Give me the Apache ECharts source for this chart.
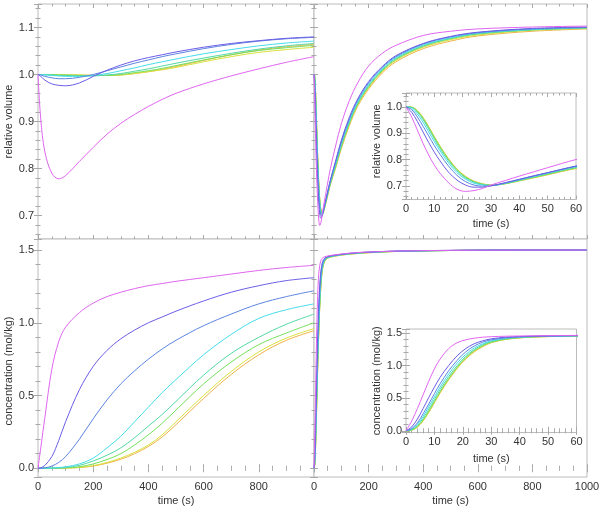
<!DOCTYPE html>
<html><head><meta charset="utf-8">
<script src="https://cdn.jsdelivr.net/npm/echarts@6/dist/echarts.min.js"></script>
<style>html,body{margin:0;padding:0;background:#fff}#c{width:603px;height:511px}</style>
</head><body><div id="c"></div>
<script>
// series order: magenta, violet, blue, cyan, spring green, green, yellow, orange
const lineColors = ['#e066f0', '#6b5de6', '#5c85e0', '#45dcec', '#52d8a4', '#74e05c', '#d8e23c', '#f0b248'];

const tLeft = [0,10,25,50,75,100,150,200,250,300,350,400,450,500,600,700,800,900,1000];
const tRight = [0,2,4,6,8,10,12,15,18,21,24,27,30,35,40,45,50,60,80,100,130,160,200,250,300,400,500,600,800,1000];

const volLeft = [
  [1.0,0.905,0.835,0.79,0.778,0.785,0.815,0.845,0.873,0.896,0.915,0.932,0.947,0.96,0.98,0.997,1.012,1.026,1.038],
  [1.0,0.996,0.988,0.98,0.977,0.976,0.982,0.996,1.009,1.02,1.029,1.036,1.042,1.048,1.058,1.066,1.072,1.077,1.08],
  [1.0,0.999,0.996,0.993,0.991,0.991,0.994,1.0,1.008,1.016,1.024,1.031,1.038,1.044,1.055,1.064,1.071,1.076,1.079],
  [1.0,1.0,0.999,0.998,0.997,0.996,0.996,0.998,1.002,1.008,1.014,1.021,1.027,1.033,1.044,1.053,1.061,1.067,1.071],
  [1.0,1.0,1.0,0.999,0.998,0.998,0.997,0.997,0.999,1.002,1.007,1.012,1.018,1.024,1.035,1.045,1.054,1.061,1.066],
  [1.0,1.0,1.0,1.0,0.999,0.999,0.998,0.998,0.998,1.0,1.004,1.008,1.013,1.019,1.031,1.042,1.051,1.057,1.062],
  [1.0,1.0,1.0,1.0,1.0,0.999,0.999,0.998,0.998,0.999,1.002,1.006,1.01,1.015,1.027,1.038,1.047,1.053,1.058],
  [1.0,1.0,1.0,1.0,1.0,0.999,0.999,0.998,0.998,0.999,1.002,1.006,1.011,1.017,1.03,1.042,1.052,1.059,1.064]
];

const concLeft = [
  [0,0.14,0.35,0.68,0.87,0.97,1.07,1.135,1.18,1.21,1.235,1.255,1.27,1.285,1.31,1.335,1.36,1.38,1.395],
  [0,0.003,0.02,0.08,0.19,0.32,0.54,0.7,0.81,0.89,0.95,1.0,1.04,1.08,1.15,1.21,1.255,1.29,1.31],
  [0,0,0.003,0.015,0.04,0.08,0.2,0.34,0.47,0.58,0.67,0.75,0.82,0.88,0.98,1.06,1.13,1.18,1.22],
  [0,0,0.001,0.002,0.005,0.01,0.03,0.07,0.14,0.22,0.32,0.42,0.52,0.61,0.78,0.92,1.03,1.09,1.13],
  [0,0,0,0.001,0.002,0.005,0.02,0.05,0.09,0.14,0.21,0.29,0.37,0.46,0.64,0.79,0.9,0.99,1.06],
  [0,0,0,0,0.001,0.003,0.01,0.03,0.06,0.1,0.16,0.23,0.31,0.4,0.58,0.73,0.85,0.93,1.0],
  [0,0,0,0,0.001,0.002,0.006,0.018,0.04,0.07,0.11,0.16,0.23,0.32,0.5,0.665,0.8,0.895,0.96],
  [0,0,0,0,0,0.001,0.005,0.015,0.035,0.062,0.1,0.15,0.215,0.3,0.48,0.645,0.78,0.88,0.945]
];

const volRight = [
  [1.0,0.962,0.912,0.862,0.817,0.779,0.748,0.712,0.687,0.679,0.682,0.69,0.703,0.72,0.737,0.753,0.769,0.8,0.85,0.895,0.945,0.982,1.018,1.045,1.062,1.083,1.092,1.097,1.101,1.103],
  [1.0,0.98,0.945,0.905,0.865,0.828,0.795,0.752,0.722,0.703,0.695,0.695,0.7,0.712,0.725,0.738,0.75,0.775,0.818,0.86,0.91,0.948,0.985,1.017,1.04,1.066,1.081,1.09,1.098,1.101],
  [1.0,0.99,0.962,0.927,0.89,0.853,0.82,0.775,0.74,0.716,0.703,0.699,0.7,0.711,0.724,0.737,0.75,0.775,0.815,0.856,0.906,0.945,0.982,1.015,1.038,1.065,1.08,1.089,1.097,1.1],
  [1.0,0.995,0.973,0.942,0.905,0.868,0.833,0.787,0.75,0.725,0.71,0.703,0.701,0.71,0.723,0.736,0.749,0.773,0.812,0.853,0.903,0.942,0.979,1.012,1.036,1.063,1.078,1.088,1.096,1.1],
  [1.0,0.998,0.98,0.952,0.916,0.878,0.842,0.795,0.757,0.73,0.714,0.705,0.702,0.709,0.721,0.733,0.746,0.77,0.808,0.849,0.899,0.939,0.976,1.01,1.034,1.061,1.077,1.087,1.095,1.099],
  [1.0,0.999,0.984,0.957,0.922,0.884,0.848,0.8,0.761,0.733,0.716,0.706,0.702,0.708,0.72,0.732,0.744,0.768,0.806,0.847,0.897,0.937,0.974,1.008,1.032,1.06,1.076,1.086,1.095,1.099],
  [1.0,0.999,0.985,0.959,0.924,0.886,0.85,0.802,0.763,0.735,0.717,0.707,0.703,0.708,0.719,0.731,0.743,0.767,0.804,0.845,0.895,0.935,0.972,1.006,1.03,1.058,1.074,1.084,1.094,1.098],
  [1.0,0.999,0.986,0.96,0.925,0.887,0.851,0.803,0.764,0.736,0.718,0.708,0.703,0.708,0.719,0.73,0.742,0.766,0.802,0.842,0.892,0.932,0.969,1.003,1.027,1.055,1.071,1.082,1.092,1.097]
];

const concRight = [
  [0,0.15,0.34,0.55,0.76,0.95,1.1,1.26,1.35,1.395,1.42,1.435,1.443,1.45,1.454,1.457,1.459,1.463,1.468,1.473,1.479,1.483,1.487,1.49,1.493,1.496,1.498,1.499,1.5,1.5],
  [0,0.06,0.18,0.34,0.51,0.67,0.82,1.0,1.15,1.26,1.335,1.38,1.41,1.435,1.445,1.451,1.455,1.46,1.466,1.471,1.477,1.482,1.486,1.49,1.493,1.496,1.498,1.499,1.5,1.5],
  [0,0.035,0.12,0.26,0.41,0.57,0.72,0.92,1.08,1.21,1.3,1.36,1.395,1.425,1.44,1.447,1.452,1.458,1.464,1.47,1.476,1.481,1.485,1.489,1.492,1.495,1.497,1.499,1.5,1.5],
  [0,0.025,0.1,0.22,0.37,0.52,0.67,0.87,1.04,1.17,1.27,1.335,1.38,1.418,1.436,1.445,1.45,1.456,1.463,1.469,1.475,1.48,1.485,1.489,1.492,1.495,1.497,1.499,1.5,1.5],
  [0,0.018,0.08,0.19,0.33,0.48,0.63,0.83,1.0,1.14,1.245,1.32,1.37,1.412,1.432,1.443,1.448,1.455,1.462,1.468,1.474,1.479,1.484,1.488,1.491,1.495,1.497,1.499,1.5,1.5],
  [0,0.012,0.065,0.165,0.3,0.45,0.6,0.8,0.975,1.12,1.23,1.305,1.36,1.405,1.428,1.44,1.446,1.453,1.461,1.467,1.473,1.478,1.483,1.487,1.491,1.494,1.497,1.499,1.5,1.5],
  [0,0.01,0.06,0.155,0.29,0.44,0.59,0.79,0.965,1.11,1.22,1.3,1.355,1.402,1.426,1.438,1.445,1.452,1.46,1.466,1.472,1.477,1.482,1.487,1.49,1.494,1.497,1.499,1.5,1.5],
  [0,0.009,0.055,0.15,0.28,0.43,0.58,0.78,0.955,1.1,1.21,1.29,1.35,1.4,1.424,1.437,1.444,1.451,1.459,1.465,1.471,1.476,1.481,1.486,1.49,1.494,1.497,1.499,1.5,1.5]
];

const volumeLabel = 'relative volume';
const concLabel = 'concentration (mol/kg)';
const timeLabel = 'time (s)';

const FRAME = '#bcbcbc', TICK = '#a8a8a8', TXT = '#333', FF = '"Liberation Sans", Arial, sans-serif';

const grids = [
  {left: 38, top: 4, width: 276, height: 235},
  {left: 314, top: 4, width: 273, height: 235},
  {left: 38, top: 239, width: 276, height: 238},
  {left: 314, top: 239, width: 273, height: 238},
  {left: 406, top: 93, width: 170, height: 106.5, z: 10},
  {left: 406, top: 329, width: 170.5, height: 103.5, z: 10}
].map(g => Object.assign({show: true, borderColor: FRAME, borderWidth: 1, backgroundColor: '#fff', containLabel: false}, g));

function xAx(gi, pos, min, max, interval, minorSplit, showLabels, name, showMax, nameGap, z) {
  return {
    type: 'value', gridIndex: gi, position: pos, min: min, max: max, interval: interval, z: z || 0,
    axisLine: {show: false}, splitLine: {show: false},
    axisTick: {show: true, inside: true, length: 4, lineStyle: {color: TICK, width: 1}},
    minorTick: {show: true, splitNumber: minorSplit, length: 2.5, lineStyle: {color: TICK, width: 1}},
    axisLabel: {show: showLabels, margin: 4, color: TXT, fontSize: 11, fontFamily: FF, showMaxLabel: showMax, showMinLabel: true,
      formatter: v => String(Math.round(v))},
    name: name || '', nameLocation: 'middle', nameGap: nameGap || 18,
    nameTextStyle: {color: TXT, fontSize: 11, fontFamily: FF}
  };
}
function yAx(gi, pos, min, max, split, minorSplit, showLabels, name, nameGap, z, namePad) {
  return {
    type: 'value', gridIndex: gi, position: pos, min: min, max: max, splitNumber: split, z: z || 0,
    axisLine: {show: false}, splitLine: {show: false},
    axisTick: {show: true, inside: true, length: 4, lineStyle: {color: TICK, width: 1}},
    minorTick: {show: true, splitNumber: minorSplit, length: 2.5, lineStyle: {color: TICK, width: 1}},
    axisLabel: {show: showLabels, margin: 4, color: TXT, fontSize: 11, fontFamily: FF, showMinLabel: false, showMaxLabel: false,
      formatter: v => v.toFixed(1)},
    name: name || '', nameLocation: 'middle', nameGap: nameGap || 22, nameRotate: 90,
    nameTextStyle: {color: TXT, fontSize: 11, fontFamily: FF, padding: namePad || 0}
  };
}

const xAxes = [], yAxes = [];
// grid 0: top-left
xAxes.push(xAx(0, 'bottom', 0, 1000, 200, 4, false));
xAxes.push(xAx(0, 'top', 0, 1000, 200, 4, false));
yAxes.push(yAx(0, 'left', 0.65, 1.15, 5, 5, true, volumeLabel, 22));
yAxes.push(yAx(0, 'right', 0.65, 1.15, 5, 5, false));
// grid 1: top-right
xAxes.push(xAx(1, 'bottom', 0, 1000, 200, 4, false));
xAxes.push(xAx(1, 'top', 0, 1000, 200, 4, false));
yAxes.push(yAx(1, 'left', 0.65, 1.15, 5, 5, false));
yAxes.push(yAx(1, 'right', 0.65, 1.15, 5, 5, false));
// grid 2: bottom-left
xAxes.push(xAx(2, 'bottom', 0, 1000, 200, 4, true, timeLabel, false, 18));
xAxes.push(xAx(2, 'top', 0, 1000, 200, 4, false));
yAxes.push(yAx(2, 'left', -0.06, 1.576, 3, 5, true, concLabel, 22, 0, [0, 26, 0, 0]));
yAxes.push(yAx(2, 'right', -0.06, 1.576, 3, 5, false));
// grid 3: bottom-right
xAxes.push(xAx(3, 'bottom', 0, 1000, 200, 4, true, timeLabel, true, 18));
xAxes.push(xAx(3, 'top', 0, 1000, 200, 4, false));
yAxes.push(yAx(3, 'left', -0.06, 1.576, 3, 5, false));
yAxes.push(yAx(3, 'right', -0.06, 1.576, 3, 5, false));
// grid 4: inset top
xAxes.push(xAx(4, 'bottom', 0, 60, 10, 5, true, timeLabel, true, 19, 11));
xAxes.push(xAx(4, 'top', 0, 60, 10, 5, false, '', true, 18, 11));
yAxes.push(yAx(4, 'left', 0.648, 1.053, 4, 5, true, volumeLabel, 21, 11, [0, 0, 0, 10]));
yAxes.push(yAx(4, 'right', 0.648, 1.053, 4, 5, false, '', 22, 11));
// grid 5: inset bottom
xAxes.push(xAx(5, 'bottom', 0, 60, 10, 5, true, timeLabel, true, 21, 11));
xAxes.push(xAx(5, 'top', 0, 60, 10, 5, false, '', true, 18, 11));
yAxes.push(yAx(5, 'left', -0.026, 1.561, 3, 5, true, concLabel, 22, 11));
yAxes.push(yAx(5, 'right', -0.026, 1.561, 3, 5, false, '', 22, 11));

function panelSeries(gi, t, rows, z) {
  const out = [];
  for (let i = rows.length - 1; i >= 0; i--) {
    out.push({
      type: 'line', xAxisIndex: gi * 2, yAxisIndex: gi * 2, z: z,
      data: t.map((x, j) => [x, rows[i][j]]),
      symbol: 'none', showSymbol: false, smooth: 0.35, clip: true, silent: true,
      lineStyle: {color: lineColors[i], width: 1}, itemStyle: {color: lineColors[i]}
    });
  }
  return out;
}

const series = [].concat(
  panelSeries(0, tLeft, volLeft, 2),
  panelSeries(1, tRight, volRight, 2),
  panelSeries(2, tLeft, concLeft, 2),
  panelSeries(3, tRight, concRight, 2),
  panelSeries(4, tRight, volRight, 12),
  panelSeries(5, tRight, concRight, 12)
);

const chart = echarts.init(document.getElementById('c'), null, {renderer: 'canvas'});
chart.setOption({
  animation: false,
  backgroundColor: '#fff',
  grid: grids,
  xAxis: xAxes,
  yAxis: yAxes,
  series: series
});
</script>
</body></html>
